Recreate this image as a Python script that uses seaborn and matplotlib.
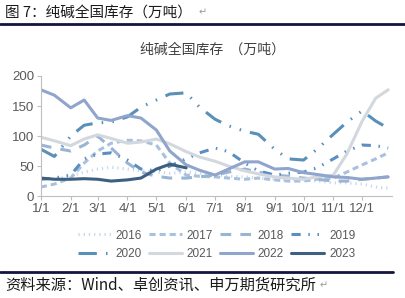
import numpy as np
import pandas as pd
import matplotlib
matplotlib.use("Agg")
import matplotlib.pyplot as plt
import seaborn as sns

# sample dates (month-day), roughly twice a month
dates = ["01-01", "01-15", "02-01", "02-15", "03-01", "03-15", "04-01", "04-15",
         "05-01", "05-15", "06-01", "06-15", "07-01", "07-15", "08-01", "08-15",
         "09-01", "09-15", "10-01", "10-15", "11-01", "11-15", "12-01", "12-15", "12-28"]

years = ["2016", "2017", "2018", "2019", "2020", "2021", "2022", "2023"]

inv_2016 = [30, 28, 33, 40, 45, 48, 45, 42, 40, 38, 40, 38, 35, 33, 32, 30,
            28, 27, 27, 25, 22, 22, 20, 15, 13]
inv_2017 = [15, 20, 30, 55, 75, 88, 93, 92, 85, 55, 35, 33, 32, 30, 28, 30,
            27, 25, 25, 28, 30, 40, 52, 62, 72]
inv_2018 = [85, 80, 75, 85, 100, 80, 55, 40, 33, 30, 30, 32, 35, 40, 45, 40,
            35, 33, 30, 28, 25, 25, 28, 30, 32]
inv_2019 = [28, 30, 35, 62, 70, 72, 60, 45, 42, 50, 62, 72, 80, 74, 55, 42,
            35, 38, 40, 47, 62, 75, 85, 84, 80]
inv_2020 = [78, 66, 100, 118, 122, 123, 132, 148, 160, 170, 172, 148, 128, 117, 108, 103,
            78, 62, 60, 78, 103, 123, 142, 125, 113]
inv_2021 = [98, 92, 84, 95, 102, 96, 88, 90, 95, 87, 74, 65, 58, 50, 42, 37,
            32, 30, 28, 32, 35, 70, 125, 163, 177]
inv_2022 = [177, 168, 147, 160, 130, 126, 134, 130, 110, 75, 52, 43, 35, 45, 57, 57,
            45, 46, 39, 36, 32, 31, 28, 30, 32]
inv_2023 = [30, 28, 28, 29, 28, 25, 27, 30, 45, 53, 47, np.nan, np.nan, np.nan, np.nan, np.nan,
            np.nan, np.nan, np.nan, np.nan, np.nan, np.nan, np.nan, np.nan, np.nan]

month_ticks = ["01-01", "02-01", "03-01", "04-01", "05-01", "06-01",
               "07-01", "08-01", "09-01", "10-01", "11-01", "12-01"]
month_labels = ["1/1", "2/1", "3/1", "4/1", "5/1", "6/1",
                "7/1", "8/1", "9/1", "10/1", "11/1", "12/1"]

colors = {"2016": "#c8d8eb", "2017": "#a9c1dc", "2018": "#9ab4d3", "2019": "#5b8fc2",
          "2020": "#5a90b8", "2021": "#d3d8de", "2022": "#8fa5cc", "2023": "#3d5f80"}
dash_styles = {"2016": (0.4, 1.3), "2017": (2, 1.3), "2018": (3.5, 3),
               "2019": (3, 2.5, 0.5, 2.5, 0.5, 2.5), "2020": (6, 3, 0.5, 3, 0.5, 3),
               "2021": "", "2022": "", "2023": ""}


def day_of_year(md):
    return pd.Timestamp("2021-" + md).dayofyear - 1


# build long table
series = [inv_2016, inv_2017, inv_2018, inv_2019, inv_2020, inv_2021, inv_2022, inv_2023]
rows = []
for year, vals in zip(years, series):
    for d, v in zip(dates, vals):
        rows.append({"day": day_of_year(d), "value": v, "year": year})
df = pd.DataFrame(rows)

sns.set_style("white")
plt.rcParams["font.family"] = ["Noto Sans CJK SC", "DejaVu Sans"]

fig = plt.figure(figsize=(4.05, 2.98), dpi=100)
ax = fig.add_axes([0.101, 0.342, 0.867, 0.403])

sns.lineplot(data=df, x="day", y="value", hue="year", style="year",
             hue_order=years, style_order=years, palette=colors, dashes=dash_styles,
             linewidth=2.2, ax=ax)

ax.set_xlim(0, 365)
ax.set_ylim(0, 200)
ax.set_yticks([0, 50, 100, 150, 200])
ax.set_xticks([day_of_year(m) for m in month_ticks])
ax.set_xticklabels(month_labels)
ax.set_xlabel("")
ax.set_ylabel("")
for lab in ax.get_xticklabels() + ax.get_yticklabels():
    lab.set_family(["Liberation Sans", "DejaVu Sans"])
ax.tick_params(axis="both", labelsize=9.5, colors="#bfbfbf", labelcolor="#595959",
               length=3, width=0.8, pad=2, direction="out", left=True, bottom=True)
sns.despine(ax=ax)
for side in ["left", "bottom"]:
    ax.spines[side].set_color("#bfbfbf")
    ax.spines[side].set_linewidth(0.8)

# legend filled row by row (matplotlib fills columns first)
handles, labels = ax.get_legend_handles_labels()
order = [0, 4, 1, 5, 2, 6, 3, 7]
ax.legend([handles[i] for i in order], [labels[i] for i in order], ncol=4,
          loc="upper center", bbox_to_anchor=(0.5, -0.19),
          frameon=False, handlelength=2.8, handletextpad=0.4, columnspacing=0.6,
          labelspacing=0.55, prop={"family": ["Liberation Sans", "DejaVu Sans"], "size": 8.5},
          labelcolor="#595959")

# chart title and page decorations
fig.text(0.525, 0.832, "纯碱全国库存  （万吨）", ha="center", va="center",
         fontsize=10, color="#404040")
fig.text(0.012, 0.958, "图 7：纯碱全国库存（万吨）", ha="left", va="center",
         fontsize=10.5, color="#1a1a1a")
fig.text(0.49, 0.958, "↵", ha="left", va="center", fontsize=7, color="#999999")
fig.add_artist(plt.Line2D([0, 1], [0.919, 0.919], color="#141440", linewidth=2))
fig.add_artist(plt.Line2D([0, 0.97], [0.087, 0.087], color="#141440", linewidth=2))
fig.text(0.012, 0.043, "资料来源：Wind、卓创资讯、申万期货研究所", ha="left", va="center",
         fontsize=11, color="#1a1a1a")
fig.text(0.79, 0.043, "↵", ha="left", va="center", fontsize=7, color="#999999")

fig.savefig("out.png", dpi=100)
